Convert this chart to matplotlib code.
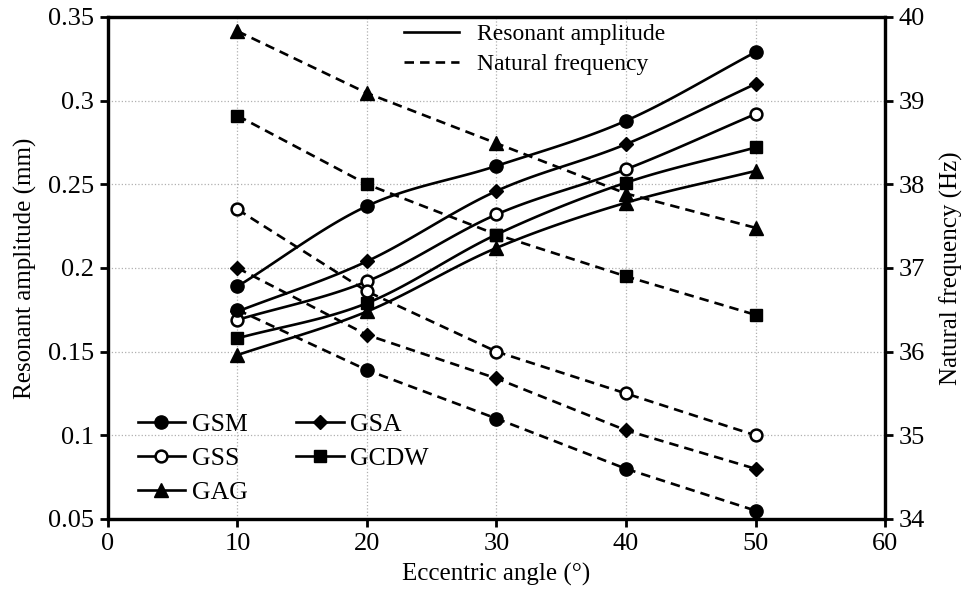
import matplotlib
matplotlib.use("Agg")
import matplotlib.pyplot as plt
import numpy as np
from matplotlib.lines import Line2D
from matplotlib.ticker import FormatStrFormatter

plt.rcParams['font.family'] = ['Liberation Serif', 'DejaVu Serif']
plt.rcParams['mathtext.fontset'] = 'stix'

# data
angles = [10, 20, 30, 40, 50]
series = ['GSM', 'GSA', 'GSS', 'GCDW', 'GAG']

# resonant amplitude (mm), left axis
amp_gsm = [0.189, 0.237, 0.261, 0.288, 0.329]
amp_gsa = [0.174, 0.204, 0.246, 0.274, 0.310]
amp_gss = [0.169, 0.192, 0.232, 0.259, 0.292]
amp_gcdw = [0.158, 0.179, 0.220, 0.251, 0.272]
amp_gag = [0.148, 0.174, 0.212, 0.239, 0.258]

# natural frequency (Hz), right axis
freq_gsm = [36.50, 35.78, 35.20, 34.60, 34.10]
freq_gsa = [37.00, 36.20, 35.68, 35.06, 34.60]
freq_gss = [37.70, 36.72, 36.00, 35.50, 35.00]
freq_gcdw = [38.82, 38.00, 37.40, 36.90, 36.44]
freq_gag = [39.83, 39.09, 38.49, 37.89, 37.48]

amps = [amp_gsm, amp_gsa, amp_gss, amp_gcdw, amp_gag]
freqs = [freq_gsm, freq_gsa, freq_gss, freq_gcdw, freq_gag]

markers = {'GSM': dict(marker='o', ms=9.5, mfc='black'),
           'GSA': dict(marker='D', ms=7, mfc='black'),
           'GSS': dict(marker='o', ms=8.5, mfc='white', mew=1.8),
           'GCDW': dict(marker='s', ms=9, mfc='black'),
           'GAG': dict(marker='^', ms=9.5, mfc='black')}


def smooth(x, y, n=30):
    # Catmull-Rom curve through the points (like a spreadsheet "smoothed line")
    x = np.asarray(x, float)
    y = np.asarray(y, float)
    px = np.concatenate([[2 * x[0] - x[1]], x, [2 * x[-1] - x[-2]]])
    py = np.concatenate([[2 * y[0] - y[1]], y, [2 * y[-1] - y[-2]]])
    xs, ys = [], []
    t = np.linspace(0, 1, n)
    for i in range(1, len(px) - 2):
        for p, out in ((px, xs), (py, ys)):
            p0, p1, p2, p3 = p[i - 1], p[i], p[i + 1], p[i + 2]
            out.extend(0.5 * ((2 * p1) + (-p0 + p2) * t
                              + (2 * p0 - 5 * p1 + 4 * p2 - p3) * t ** 2
                              + (-p0 + 3 * p1 - 3 * p2 + p3) * t ** 3))
    return np.array(xs), np.array(ys)


fig = plt.figure(figsize=(9.79, 6.02), dpi=100)
ax = fig.add_axes([0.1103, 0.1379, 0.7937, 0.8339])
ax2 = ax.twinx()

lw = 1.9
dash = (0, (3.6, 2.3))
for name, a in zip(series, amps):
    sx, sy = smooth(angles, a)
    ax.plot(sx, sy, color='black', lw=lw, zorder=3)
    ax.plot(angles, a, ls='none', color='black', mec='black', zorder=4, **markers[name])

for name, f in zip(series, freqs):
    ax2.plot(angles, f, color='black', lw=lw, ls=dash, mec='black',
             zorder=3, **markers[name])

ax.set_xlim(0, 60)
ax.set_ylim(0.05, 0.35)
ax2.set_ylim(34, 40)
ax.set_xticks([0, 10, 20, 30, 40, 50, 60])
ax.set_yticks([0.05, 0.1, 0.15, 0.2, 0.25, 0.3, 0.35])
ax2.set_yticks([34, 35, 36, 37, 38, 39, 40])
ax.yaxis.set_major_formatter(FormatStrFormatter('%g'))

ax.grid(True, color='#b0b0b0', ls=':', lw=0.9)
ax.set_axisbelow(True)

fs = 19
for a_ in (ax, ax2):
    a_.tick_params(direction='out', length=6, width=2, labelsize=fs, pad=4)
    for s in a_.spines.values():
        s.set_linewidth(2.3)

ax.set_xlabel('Eccentric angle (°)', fontsize=18, labelpad=6)
ax.set_ylabel('Resonant amplitude (mm)', fontsize=18, labelpad=8)
ax2.set_ylabel('Natural frequency (Hz)', fontsize=18, labelpad=10)

# series legend, filled row by row as in the reference
order = ['GSM', 'GSS', 'GAG', 'GSA', 'GCDW']
handles = [Line2D([], [], color='black', lw=lw, mec='black', **markers[n]) for n in order]
leg1 = ax2.legend(handles, order, loc='lower left', bbox_to_anchor=(0.015, -0.006),
                  ncol=2, frameon=False, fontsize=18.5, handlelength=1.85,
                  handletextpad=0.25, columnspacing=1.9, labelspacing=0.42, borderpad=0.2)
ax2.add_artist(leg1)

# line style legend
style_handles = [Line2D([], [], color='black', lw=lw),
                 Line2D([], [], color='black', lw=lw, ls=dash)]
ax2.legend(style_handles, ['Resonant amplitude', 'Natural frequency'], loc='upper left',
           bbox_to_anchor=(0.36, 1.02), frameon=False, fontsize=17, handlelength=2.3,
           handletextpad=0.8, labelspacing=0.35, borderpad=0.2)

fig.savefig('out.png', dpi=100)
